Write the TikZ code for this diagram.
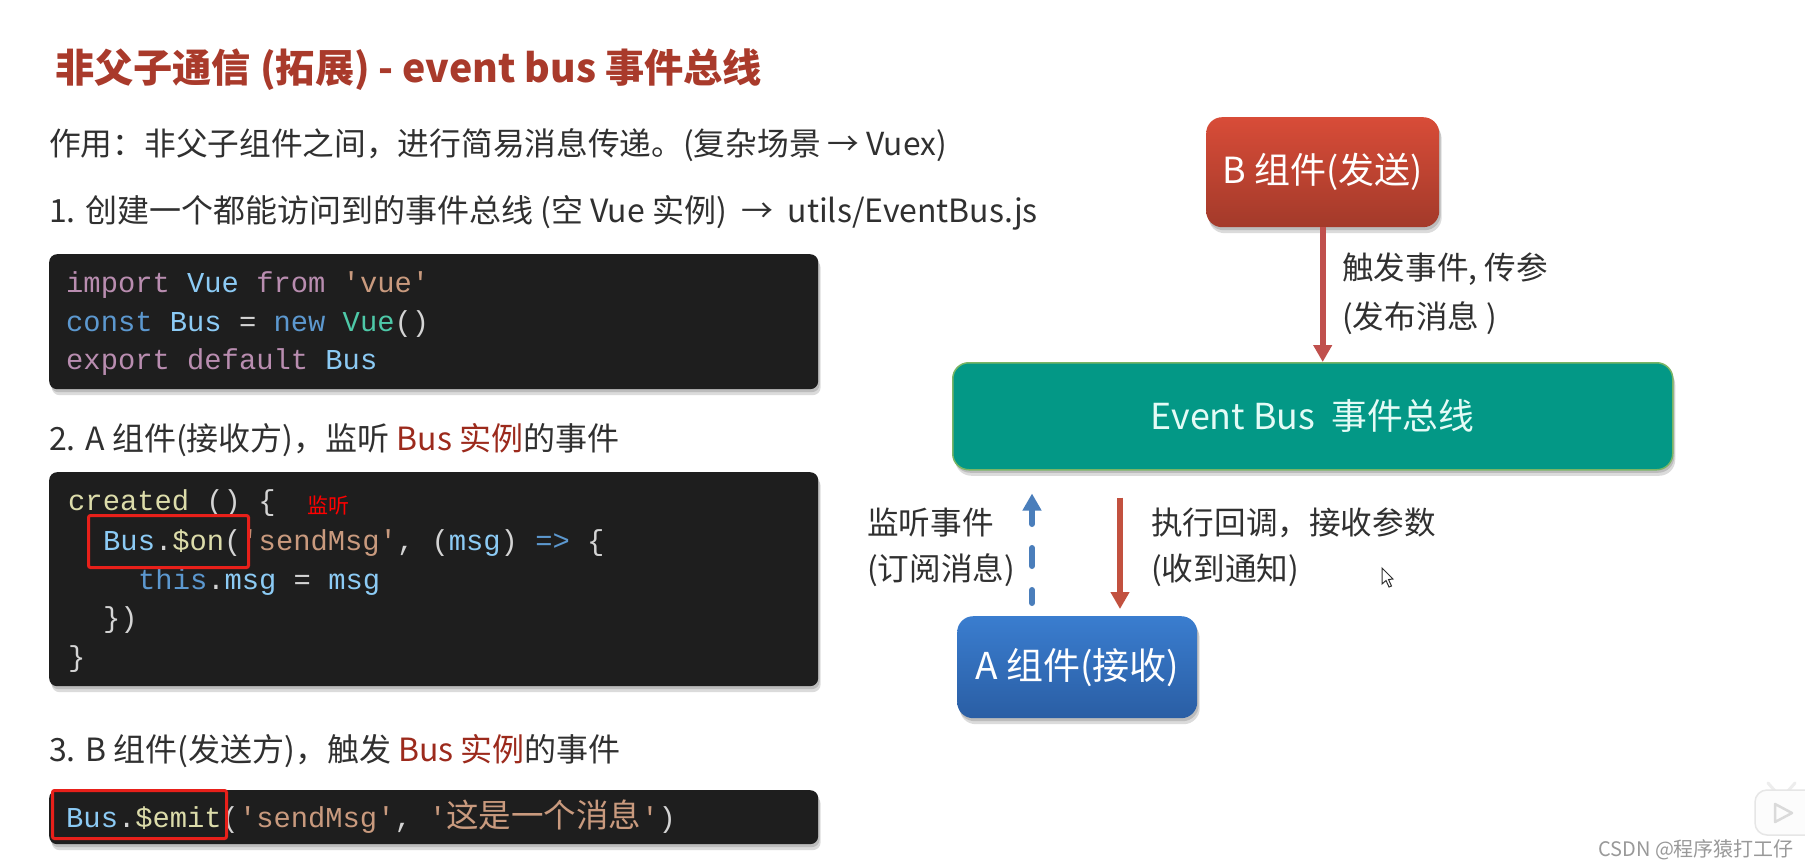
\documentclass[tikz,border=0pt]{standalone}
\usepackage{fontspec}
\usetikzlibrary{arrows.meta,shadows}
\setmainfont{Noto Sans CJK SC}
\newfontfamily\codefont[Ligatures=ResetAll]{Liberation Mono}
\newfontfamily\cjkcode{Noto Sans CJK SC}
\definecolor{ink}{HTML}{303030}
\definecolor{titlered}{HTML}{A93A2B}
\definecolor{accent}{HTML}{9C2A1C}
\definecolor{codebg}{HTML}{1E1E1E}
\definecolor{ckw}{HTML}{B98DB0}
\definecolor{cvar}{HTML}{8CCBF5}
\definecolor{cblue}{HTML}{5C98CF}
\definecolor{cstr}{HTML}{C99A7E}
\definecolor{cfn}{HTML}{DCDCAA}
\definecolor{ctype}{HTML}{4EC9A8}
\definecolor{cplain}{HTML}{D4D4D4}
\definecolor{boxred}{HTML}{E8201A}
\definecolor{arrred}{HTML}{C0504D}
\definecolor{arrdown}{HTML}{C2513F}
\definecolor{arrblue}{HTML}{4A7EBB}
\definecolor{redtop}{HTML}{D84C38}
\definecolor{redbot}{HTML}{A33A2A}
\definecolor{bluetop}{HTML}{3A7DCF}
\definecolor{bluebot}{HTML}{2A5EA4}
\definecolor{busfill}{HTML}{039886}
\definecolor{busedge}{HTML}{7AB565}
\definecolor{bustext}{HTML}{E4FBF6}
\definecolor{badge}{HTML}{FCFCFC}
\definecolor{badgeedge}{HTML}{E6E6E6}
\definecolor{badgeline}{HTML}{DADADA}
\definecolor{badgeear}{HTML}{EDEDED}
\definecolor{wm}{HTML}{999999}
\newcommand{\ck}[1]{\textcolor{ckw}{#1}}
\newcommand{\cv}[1]{\textcolor{cvar}{#1}}
\newcommand{\cb}[1]{\textcolor{cblue}{#1}}
\newcommand{\cs}[1]{\textcolor{cstr}{#1}}
\newcommand{\cf}[1]{\textcolor{cfn}{#1}}
\newcommand{\ct}[1]{\textcolor{ctype}{#1}}
\tikzset{
  txt/.style={anchor=base west,inner sep=0pt,text=ink,font=\fontsize{32}{36}\selectfont},
  titletxt/.style={anchor=base west,inner sep=0pt,text=titlered,font=\fontsize{39.2}{44}\selectfont\bfseries},
  lbl/.style={anchor=base west,inner sep=0pt,text=ink,font=\fontsize{31.6}{36}\selectfont},
  codeline/.style={anchor=base west,inner sep=0pt,text=cplain,font=\codefont\fontsize{28.8}{32}\selectfont},
  softshadow/.style={drop shadow={shadow xshift=1.5pt,shadow yshift=-3pt,opacity=.14,fill=black},
    drop shadow={shadow xshift=2.5pt,shadow yshift=-6pt,opacity=.14,fill=black}},
  codebox/.style={draw=none,fill=codebg,rounded corners=8pt,inner sep=0pt,anchor=north west,softshadow},
  mark box/.style={draw=boxred,line width=3pt,rounded corners=2pt,inner sep=0pt,anchor=north west},
  flowbox/.style={rounded corners=16pt,inner sep=0pt,anchor=north west,text=white,softshadow},
  flowarrow/.style={line width=6pt,-{Triangle[length=17pt,width=18pt]}},
}
\begin{document}
\begin{tikzpicture}[x=1pt,y=-1pt]
\useasboundingbox (0,0) rectangle (1805,867);
\fill[white] (0,0) rectangle (1805,867);

% text column
\node[titletxt] (title) at (55,82) {非父子通信 (拓展) - event bus 事件总线};
\node[txt,font=\fontsize{31.7}{36}\selectfont] (intro) at (49,155) {作用：非父子组件之间，进行简易消息传递。(复杂场景 → Vuex)};
\node[txt] (step1) at (49,222) {1. 创建一个都能访问到的事件总线 (空 Vue 实例)\ \ →\ \ utils/EventBus.js};
\node[txt] (step2) at (49,450) {2. A 组件(接收方)，监听 \textcolor{accent}{Bus 实例}的事件};
\node[txt] (step3) at (49,761) {3. B 组件(发送方)，触发 \textcolor{accent}{Bus 实例}的事件};

% code box 1
\node[codebox,minimum width=769pt,minimum height=135pt] (code1) at (49,254) {};
\node[codeline] (c1a) at (66,292) {\ck{import} \cv{Vue} \ck{from} \cs{'vue'}};
\node[codeline] (c1b) at (66,331) {\cb{const} \cv{Bus} = \cb{new} \ct{Vue}()};
\node[codeline] (c1c) at (66,369) {\ck{export} \ck{default} \cv{Bus}};

% code box 2
\node[codebox,minimum width=769pt,minimum height=214pt] (code2) at (49,472) {};
\node[codeline] (c2a) at (68,510) {\cf{created} () \{};
\node[codeline] (c2b) at (103,550) {\cv{Bus}.\cf{\$on}(\cs{'sendMsg'}, (\cv{msg}) \cb{=>} \{};
\node[codeline] (c2c) at (138,589) {\cb{this}.\cv{msg} = \cv{msg}};
\node[codeline] (c2d) at (103,627) {\})};
\node[codeline] (c2e) at (68,666) {\}};
\node[anchor=base west,inner sep=0pt,text=red,font=\fontsize{21}{25}\selectfont] (listen) at (307,513) {监听};
\node[mark box,minimum width=160pt,minimum height=52pt] (mark1) at (87,514) {};

% code box 3
\node[codebox,minimum width=769pt,minimum height=54pt] (code3) at (49,790) {};
\node[codeline] (c3) at (66,827) {\cv{Bus}.\cf{\$emit}(\cs{'sendMsg'}, \cs{'{\cjkcode\fontsize{32.5}{36}\selectfont 这是一个消息}'})};
\node[mark box,minimum width=174pt,minimum height=48pt] (mark2) at (51,789) {};

% flow boxes
\node[flowbox,minimum width=233pt,minimum height=110pt,top color=redtop,bottom color=redbot,
  font=\fontsize{36}{40}\selectfont] (B) at (1206,117) {B 组件(发送)};
\node[flowbox,minimum width=720pt,minimum height=107pt,fill=busfill,draw=busedge,line width=1.5pt,
  font=\fontsize{35.8}{40}\selectfont,text=bustext] (bus) at (952,362) {Event Bus\ \ 事件总线};
\node[flowbox,minimum width=240pt,minimum height=102pt,top color=bluetop,bottom color=bluebot,
  font=\fontsize{37}{41}\selectfont] (A) at (957,616) {A 组件(接收)};

% flow labels
\node[lbl] (lb1) at (1342,279) {触发事件, 传参};
\node[lbl] (lb2) at (1342,328) {(发布消息 )};
\node[lbl] (la1) at (867,534) {监听事件};
\node[lbl] (la2) at (867,580) {(订阅消息)};
\node[lbl] (lc1) at (1151,534) {执行回调，接收参数};
\node[lbl] (lc2) at (1151,580) {(收到通知)};

% connectors
\coordinate (blueX) at (1032,0);
\coordinate (redX) at (1120,0);
\draw[flowarrow,arrred] (B.south) -- (bus.north -| B.south);
\draw[flowarrow,arrblue,line cap=round,shorten <=13pt,shorten >=23pt,dash pattern=on 13pt off 24pt on 18pt off 24pt on 60pt]
  (A.north -| blueX) -- (bus.south -| blueX);
\draw[flowarrow,arrdown,shorten <=27pt,shorten >=7pt] (bus.south -| redX) -- (A.north -| redX);

% mouse pointer
\draw[line width=1pt,draw=ink,fill=white] (1382,568) -- (1382,584) -- (1386,580.5) -- (1389,587) -- (1391.5,586) -- (1388.5,579.5) -- (1393,579) -- cycle;

% player badge
\draw[line width=3pt,draw=badgeear,line cap=round] (1768,783) -- (1775,791) (1795,783) -- (1788,791);
\fill[badge,draw=badgeedge,line width=1.5pt,rounded corners=12pt] (1755,790) rectangle (1818,835);
\draw[line width=2.5pt,draw=badgeline,line join=round] (1775,804) -- (1775,822) -- (1792,813) -- cycle;

% watermark
\node[anchor=base west,inner sep=0pt,text=wm,font=\fontsize{20}{24}\selectfont] (mark) at (1598,856) {CSDN @程序猿打工仔};
\end{tikzpicture}
\end{document}
